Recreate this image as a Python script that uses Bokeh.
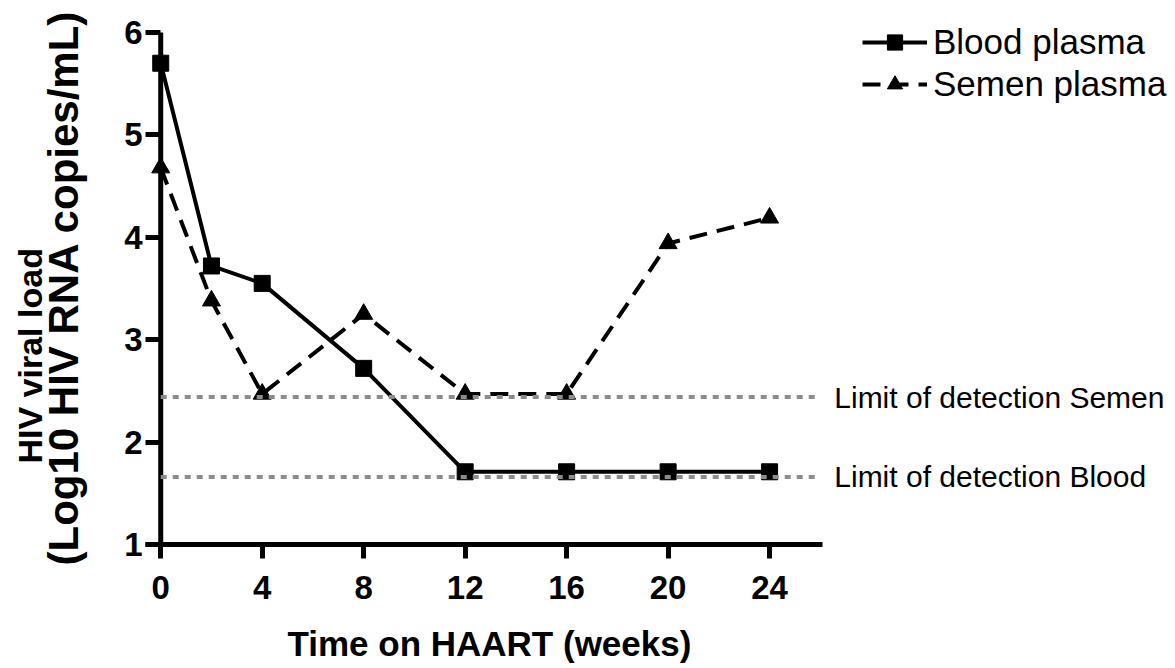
from bokeh.plotting import figure
from bokeh.models import Range1d, FixedTicker, Label, Legend, LegendItem, Title
from bokeh.embed import file_html
from bokeh.resources import INLINE

# ---- data ----
weeks = [0, 2, 4, 8, 12, 16, 20, 24]
blood_plasma = [5.70, 3.72, 3.55, 2.72, 1.71, 1.71, 1.71, 1.71]
semen_plasma = [4.68, 3.38, 2.47, 3.25, 2.47, 2.47, 3.94, 4.19]
limit_x = [0, 26.0]
limit_semen = 2.44
limit_blood = 1.66
x_ticks = [0, 4, 8, 12, 16, 20, 24]
y_ticks = [1, 2, 3, 4, 5, 6]

FONT = "Liberation Sans"

p = figure(frame_width=1030, frame_height=544,
           x_range=Range1d(-0.6, 40.0), y_range=Range1d(1, 6.3125),
           output_backend="svg", toolbar_location=None,
           min_border_left=145, min_border_right=0,
           min_border_top=0, min_border_bottom=0)
p.outline_line_color = None
p.grid.visible = False
p.background_fill_color = "white"
p.border_fill_color = "white"

# axes
for ax in (p.xaxis[0], p.yaxis[0]):
    ax.axis_line_width = 5
    ax.axis_line_color = "black"
    ax.major_tick_line_width = 5
    ax.major_tick_line_color = "black"
    ax.minor_tick_line_color = None
    ax.major_label_text_font = FONT
    ax.major_label_text_font_style = "bold"
    ax.major_label_text_font_size = "33px"
    ax.major_label_text_color = "black"

p.xaxis.ticker = FixedTicker(ticks=x_ticks)
p.yaxis.ticker = FixedTicker(ticks=y_ticks)
p.xaxis.bounds = (-1.1, 26.1)
p.yaxis.bounds = (y_ticks[0], y_ticks[-1])

p.xaxis.major_tick_in = 0
p.xaxis.major_tick_out = 14
p.xaxis.major_label_standoff = 17

# y axis: ticks drawn inward from the frame edge up to x = 0,
# where the axis line itself sits
p.yaxis.axis_line_alpha = 0
p.yaxis.major_tick_in = 15
p.yaxis.major_tick_out = 0
p.yaxis.major_label_standoff = 3
p.segment(x0=[0], y0=[y_ticks[0]], x1=[0], y1=[y_ticks[-1]],
          line_color="black", line_width=5)

# axis titles
p.add_layout(Title(text="Time on HAART (weeks)", align="left", offset=142,
                   text_font=FONT, text_font_style="bold",
                   text_font_size="35px", text_color="black", standoff=40),
             "below")
p.add_layout(Title(text="(Log10 HIV RNA copies/mL)", align="left",
                   offset=-21, text_font=FONT, text_font_style="bold",
                   text_font_size="42px", text_color="black", standoff=69),
             "left")
p.add_layout(Title(text="HIV viral load", align="left", offset=81,
                   text_font=FONT, text_font_style="bold",
                   text_font_size="34px", text_color="black", standoff=-90),
             "left")

# series
bl = p.line(weeks, blood_plasma, line_color="black", line_width=4)
bs = p.scatter(weeks, blood_plasma, marker="square", size=16,
               fill_color="black", line_color="black")
sl = p.line(weeks, semen_plasma, line_color="black", line_width=4,
            line_dash="18 10")
ss = p.scatter(weeks, semen_plasma, marker="triangle", size=18,
               fill_color="black", line_color="black")

# limit of detection lines (drawn on top, as in the reference)
p.line(limit_x, [limit_semen, limit_semen], line_color="#8c8c8c",
       line_width=4, line_dash="6 6")
p.line(limit_x, [limit_blood, limit_blood], line_color="#8c8c8c",
       line_width=4, line_dash="6 6")

p.add_layout(Label(x=26.55, y=limit_semen, text="Limit of detection Semen",
                   text_baseline="middle", text_font=FONT,
                   text_font_size="30px", text_color="black"))
p.add_layout(Label(x=26.55, y=limit_blood, text="Limit of detection Blood",
                   text_baseline="middle", text_font=FONT,
                   text_font_size="30px", text_color="black"))

legend = Legend(items=[LegendItem(label="Blood plasma", renderers=[bl, bs]),
                       LegendItem(label="Semen plasma", renderers=[sl, ss])],
                location=(717, 440), glyph_width=65, glyph_height=38,
                label_height=38,
                label_text_font=FONT, label_text_font_size="35px",
                label_text_color="black",
                label_standoff=6, spacing=2, padding=0, margin=0,
                border_line_color=None, background_fill_alpha=0)
p.add_layout(legend)

open("out.html", "w").write(file_html(p, INLINE))
